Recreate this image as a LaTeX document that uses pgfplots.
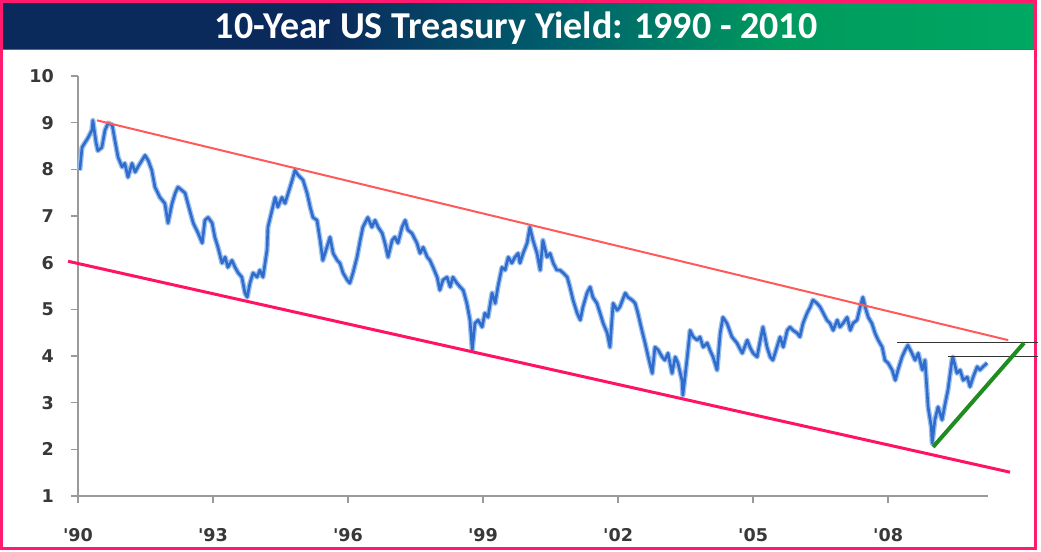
\documentclass[border=0pt]{standalone}
\usepackage{fontspec}
\setmainfont{DejaVu Sans}
\newfontfamily\titlefont{Carlito}
\usepackage{pgfplots}
\pgfplotsset{compat=1.18}
\usepackage{pgfplotstable}
\definecolor{navy}{HTML}{0B2A5C}
\definecolor{tteal}{HTML}{005E6C}
\definecolor{tgreen}{HTML}{009A5E}
\definecolor{tgreen2}{HTML}{00A862}
\definecolor{framepink}{HTML}{FF1A6E}
\definecolor{axisgray}{HTML}{9A9A9A}
\definecolor{labgray}{HTML}{383838}
\definecolor{lineblue}{HTML}{2F6CCC}
\definecolor{haloblue}{HTML}{9CC0EE}
\definecolor{upred}{HTML}{FF5A5A}
\definecolor{lowred}{HTML}{FF1464}
\definecolor{trendgreen}{HTML}{1E8C1E}
\pgfplotstableread{
x y
1990.04 7.98
1990.09 8.47
1990.16 8.58
1990.22 8.67
1990.31 8.84
1990.33 9.05
1990.40 8.58
1990.44 8.40
1990.53 8.47
1990.60 8.84
1990.67 8.99
1990.76 8.95
1990.82 8.62
1990.89 8.26
1990.98 8.05
1991.04 8.13
1991.11 7.83
1991.20 8.13
1991.27 7.94
1991.33 8.05
1991.42 8.19
1991.49 8.30
1991.56 8.19
1991.64 7.98
1991.71 7.62
1991.82 7.40
1991.93 7.27
1992.00 6.85
1992.09 7.27
1992.16 7.49
1992.22 7.62
1992.31 7.55
1992.38 7.49
1992.44 7.27
1992.56 6.85
1992.67 6.63
1992.76 6.42
1992.82 6.91
1992.89 6.97
1992.98 6.85
1993.04 6.55
1993.11 6.33
1993.20 5.99
1993.27 6.12
1993.33 5.90
1993.42 6.05
1993.49 5.90
1993.56 5.78
1993.64 5.69
1993.71 5.35
1993.76 5.26
1993.82 5.56
1993.89 5.78
1993.98 5.69
1994.04 5.84
1994.11 5.69
1994.20 6.27
1994.22 6.76
1994.31 7.12
1994.38 7.40
1994.44 7.19
1994.53 7.40
1994.60 7.27
1994.67 7.49
1994.76 7.77
1994.82 7.98
1994.89 7.88
1995.00 7.77
1995.09 7.49
1995.16 7.19
1995.22 6.97
1995.31 6.91
1995.38 6.48
1995.44 6.05
1995.53 6.33
1995.60 6.55
1995.67 6.20
1995.76 6.05
1995.82 5.99
1995.89 5.78
1995.98 5.63
1996.04 5.56
1996.11 5.78
1996.20 6.12
1996.27 6.48
1996.33 6.76
1996.44 6.97
1996.53 6.76
1996.60 6.91
1996.67 6.76
1996.76 6.63
1996.82 6.42
1996.89 6.12
1996.98 6.48
1997.04 6.55
1997.11 6.42
1997.20 6.76
1997.27 6.91
1997.33 6.70
1997.42 6.63
1997.53 6.42
1997.60 6.20
1997.67 6.33
1997.76 6.12
1997.82 6.05
1997.89 5.90
1997.98 5.69
1998.04 5.41
1998.11 5.63
1998.20 5.69
1998.27 5.48
1998.33 5.69
1998.42 5.56
1998.49 5.48
1998.56 5.41
1998.64 5.13
1998.71 4.77
1998.76 4.13
1998.82 4.70
1998.89 4.77
1998.98 4.62
1999.04 4.92
1999.11 4.83
1999.20 5.35
1999.27 5.13
1999.33 5.48
1999.42 5.90
1999.49 5.84
1999.56 6.12
1999.64 5.99
1999.71 6.12
1999.78 6.20
1999.82 5.99
1999.89 6.20
1999.98 6.42
2000.04 6.76
2000.11 6.48
2000.20 6.20
2000.27 5.84
2000.33 6.48
2000.42 6.12
2000.49 6.20
2000.56 5.99
2000.64 5.84
2000.71 5.84
2000.78 5.78
2000.87 5.69
2000.93 5.48
2001.00 5.20
2001.09 4.92
2001.16 4.77
2001.22 5.05
2001.31 5.35
2001.38 5.48
2001.44 5.26
2001.53 5.13
2001.60 4.92
2001.67 4.70
2001.76 4.49
2001.82 4.19
2001.89 5.13
2001.98 4.98
2002.04 5.05
2002.16 5.35
2002.22 5.26
2002.31 5.20
2002.38 5.13
2002.44 4.92
2002.53 4.55
2002.60 4.28
2002.67 3.98
2002.76 3.63
2002.82 4.19
2002.89 4.13
2002.98 3.98
2003.04 3.91
2003.11 4.06
2003.20 3.63
2003.27 3.98
2003.33 3.85
2003.42 3.48
2003.44 3.16
2003.53 3.91
2003.60 4.55
2003.67 4.41
2003.76 4.34
2003.82 4.41
2003.89 4.19
2003.98 4.28
2004.04 4.13
2004.11 3.98
2004.20 3.70
2004.27 4.49
2004.33 4.83
2004.42 4.70
2004.53 4.41
2004.64 4.28
2004.76 4.06
2004.87 4.34
2004.93 4.19
2005.00 4.06
2005.09 3.98
2005.16 4.34
2005.22 4.62
2005.31 4.19
2005.38 3.98
2005.44 3.91
2005.53 4.19
2005.60 4.41
2005.67 4.19
2005.76 4.55
2005.82 4.62
2005.89 4.55
2005.98 4.49
2006.04 4.41
2006.11 4.70
2006.20 4.92
2006.27 5.05
2006.33 5.20
2006.42 5.13
2006.49 5.05
2006.56 4.92
2006.64 4.77
2006.71 4.70
2006.78 4.55
2006.87 4.77
2006.93 4.62
2007.00 4.70
2007.09 4.83
2007.16 4.55
2007.22 4.70
2007.31 4.77
2007.38 5.05
2007.44 5.26
2007.49 5.05
2007.56 4.83
2007.64 4.70
2007.71 4.49
2007.78 4.34
2007.87 4.19
2007.93 3.91
2008.00 3.85
2008.09 3.70
2008.16 3.48
2008.22 3.70
2008.31 3.98
2008.38 4.13
2008.44 4.23
2008.53 4.06
2008.60 3.91
2008.67 4.06
2008.76 3.70
2008.82 3.91
2008.89 2.90
2008.96 2.48
2008.98 2.13
2009.04 2.63
2009.11 2.91
2009.20 2.63
2009.27 2.99
2009.33 3.27
2009.42 3.91
2009.44 3.98
2009.53 3.63
2009.60 3.70
2009.67 3.48
2009.76 3.55
2009.82 3.34
2009.89 3.55
2009.98 3.77
2010.04 3.70
2010.11 3.77
2010.20 3.85
}\yield
\begin{document}
\begin{tikzpicture}
\begin{scope}[x=0.5pt,y=0.5pt]
\fill[white] (0,0) rectangle (1041,552);
\fill[navy] (3,502) rectangle (330,549);
\shade[left color=navy, right color=tgreen, middle color=tteal] (329.5,502) rectangle (780,549);
\shade[left color=tgreen, right color=tgreen2] (779.5,502) rectangle (1034,549);
\draw[black!60, line width=0.5pt] (3,502) -- (1034,502);
\node[anchor=base, text=white, inner sep=0pt, font=\titlefont\bfseries\fontsize{19}{20}\selectfont] at (516,513.5) {10-Year US Treasury Yield: 1990 - 2010};
\draw[framepink, line width=1.5pt] (1.5,3) rectangle (1035,550.5);
\end{scope}
\begin{axis}[
  at={(39pt,28pt)}, anchor=south west,
  scale only axis, width=455pt, height=210pt,
  xmin=1990, xmax=2010.22, ymin=1, ymax=10,
  clip=false,
  axis x line=bottom, axis y line=left,
  axis line style={-, draw=axisgray, line width=1pt},
  tick align=outside, major tick length=3.5pt,
  tick style={draw=axisgray, line width=0.8pt},
  xtick={1990,1993,1996,1999,2002,2005,2008},
  xticklabels={\textquotesingle90,\textquotesingle93,\textquotesingle96,\textquotesingle99,\textquotesingle02,\textquotesingle05,\textquotesingle08},
  ytick={1,2,3,4,5,6,7,8,9,10},
  /pgf/number format/assume math mode=true,
  ticklabel style={font=\bfseries\fontsize{8.8}{10}\selectfont, text=labgray},
  yticklabel style={anchor=east, xshift=-5pt},
  xticklabel style={anchor=north, yshift=-9pt},
]
\addplot[haloblue, line width=2.6pt, line join=round] table {\yield};
\addplot[lineblue, line width=1.3pt, line join=round] table {\yield};
\addplot[upred, line width=1pt] coordinates {(1990.42,9.05) (2010.67,4.34)};
\addplot[lowred, line width=1.5pt] coordinates {(1989.78,6.03) (2010.71,1.51)};
\addplot[black!80, line width=0.5pt] coordinates {(2008.20,4.28) (2011.33,4.28)};
\addplot[black!80, line width=0.5pt] coordinates {(2009.33,4.00) (2011.33,4.00)};
\addplot[trendgreen, line width=2pt] coordinates {(2009.00,2.05) (2011.02,4.28)};
\end{axis}
\end{tikzpicture}
\end{document}
